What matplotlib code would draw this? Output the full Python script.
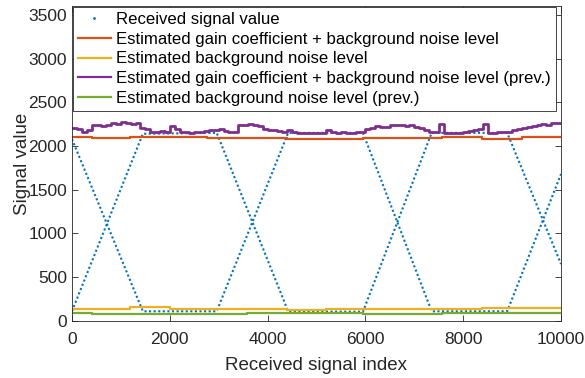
import numpy as np
import matplotlib
matplotlib.use("Agg")
import matplotlib.pyplot as plt
from matplotlib.lines import Line2D

plt.rcParams["font.family"] = ["Liberation Sans", "DejaVu Sans"]

# received signal: two crossing ramps (knots of each path)
wave_a_x = [0, 1450, 2960, 4420, 5950, 7355, 8900, 10000]
wave_a_y = [2080, 110, 110, 2150, 2150, 110, 110, 1680]
wave_b_x = [0, 1450, 2960, 4420, 5950, 7355, 8900, 10000]
wave_b_y = [110, 2140, 2150, 110, 105, 2150, 2150, 650]

# block estimates (block start indices, last edge = end)
block_edges = [0, 400, 1190, 2000, 2760, 3580, 4400, 5200, 5960, 6770, 7560, 8380, 9200, 10000]
gain_bg = [2100, 2094, 2098, 2102, 2097, 2092, 2078, 2080, 2096, 2094, 2100, 2082, 2102]
bg_level = [140, 136, 158, 132, 136, 136, 128, 132, 136, 132, 136, 145, 146]
bg_level_prev = [85, 84, 82, 82, 84, 86, 88, 86, 82, 84, 86, 88, 88]

# previous method, estimated every 100 samples
prev_edges = list(range(0, 10001, 100))
gain_bg_prev = [
    2205, 2190, 2165, 2185, 2240, 2245, 2230, 2235, 2258, 2250,
    2270, 2262, 2250, 2265, 2200, 2190, 2160, 2165, 2170, 2160,
    2230, 2195, 2165, 2155, 2150, 2160, 2165, 2170, 2185, 2180,
    2190, 2175, 2165, 2165, 2235, 2245, 2250, 2240, 2225, 2190,
    2185, 2180, 2170, 2165, 2185, 2160, 2150, 2148, 2145, 2150,
    2150, 2145, 2180, 2160, 2150, 2155, 2150, 2152, 2160, 2165,
    2195, 2210, 2225, 2215, 2220, 2235, 2245, 2240, 2230, 2235,
    2220, 2210, 2185, 2160, 2165, 2255, 2150, 2148, 2145, 2150,
    2165, 2170, 2185, 2190, 2255, 2150, 2150, 2155, 2160, 2165,
    2180, 2190, 2200, 2215, 2230, 2235, 2250, 2245, 2260, 2265,
]

c_blue = "#0072BD"
c_orange = "#D95319"
c_yellow = "#EDB120"
c_purple = "#7E2F8E"
c_green = "#77AC30"

fig = plt.figure(figsize=(5.85, 3.78), dpi=100)
ax = fig.add_axes([0.123, 0.151, 0.836, 0.833])

dotted = dict(color=c_blue, lw=1.5, linestyle=(0, (1, 1.2)))
ax.plot(wave_a_x, wave_a_y, **dotted)
ax.plot(wave_b_x, wave_b_y, **dotted)

def step_line(edges, values, **kw):
    ax.step(edges, list(values) + [values[-1]], where="post", **kw)

step_line(block_edges, gain_bg, color=c_orange, lw=1.6)
step_line(block_edges, bg_level, color=c_yellow, lw=1.6)
step_line(prev_edges, gain_bg_prev, color=c_purple, lw=2.0)
step_line(block_edges, bg_level_prev, color=c_green, lw=1.6)

ax.set_xlim(0, 10000)
ax.set_ylim(0, 3600)
ax.set_xticks(np.arange(0, 10001, 2000))
ax.set_yticks(np.arange(0, 3501, 500))
ax.tick_params(direction="in", length=4, width=0.6, colors="0.15",
               labelsize=12.5, top=True, right=True, labeltop=False, labelright=False)
ax.tick_params(axis="x", pad=8)
for s in ax.spines.values():
    s.set_color("0.15")
    s.set_linewidth(0.6)
ax.set_xlabel("Received signal index", fontsize=13.5, color="0.15", labelpad=7)
ax.set_ylabel("Signal value", fontsize=13.5, color="0.15", labelpad=-2)

handles = [
    Line2D([], [], color=c_blue, marker=".", markersize=2, linestyle="none"),
    Line2D([], [], color=c_orange, lw=1.6),
    Line2D([], [], color=c_yellow, lw=1.6),
    Line2D([], [], color=c_purple, lw=1.6),
    Line2D([], [], color=c_green, lw=1.6),
]
labels = [
    "Received signal value",
    "Estimated gain coefficient + background noise level",
    "Estimated background noise level",
    "Estimated gain coefficient + background noise level (prev.)",
    "Estimated background noise level (prev.)",
]
leg = ax.legend(handles, labels, loc="upper left", bbox_to_anchor=(0.002, 0.997),
                fontsize=12.1, fancybox=False, framealpha=1, edgecolor="0.15",
                borderpad=0.3, labelspacing=0.28, handlelength=1.95,
                handletextpad=0.3, borderaxespad=0)
leg.get_frame().set_linewidth(0.6)

fig.savefig("out.png", dpi=100)
